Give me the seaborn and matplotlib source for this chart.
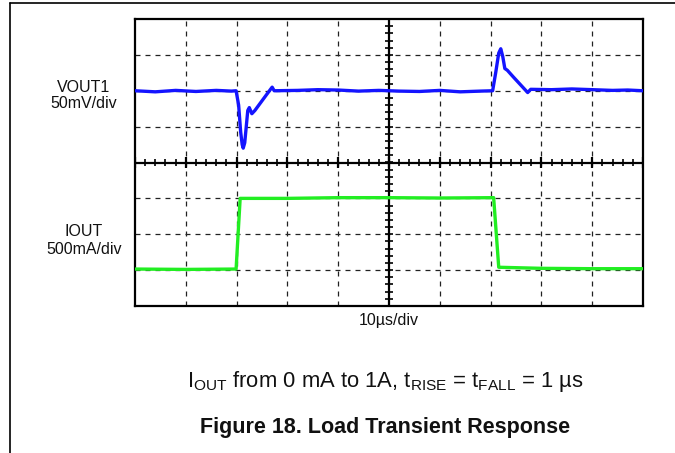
import numpy as np
import pandas as pd
import matplotlib
matplotlib.use("Agg")
import matplotlib.pyplot as plt
import seaborn as sns
from matplotlib.lines import Line2D

# ---- data (time in µs, amplitude in screen divisions) ----
vout_t = [-50, -46, -42, -38, -34, -31, -30.1, -29.6, -29.2, -28.9, -28.7, -28.4,
          -28.1, -27.8, -27.5, -27.0, -26.4, -25.0, -23.8, -23.0, -22.6, -18, -14,
          -10, -6, -2, 2, 6, 10, 14, 18, 20.4, 21.0, 21.6, 22.0, 22.4, 22.8, 23.3,
          24.5, 26.0, 27.3, 27.9, 32, 36, 40, 44, 47, 50]
vout_div = [2.00, 1.97, 2.01, 1.98, 2.01, 1.99, 2.00, 1.60, 0.85, 0.50, 0.40, 0.55,
            1.00, 1.45, 1.53, 1.36, 1.45, 1.72, 1.95, 2.10, 2.00, 2.01, 2.03, 2.02,
            1.99, 2.01, 1.99, 1.98, 2.01, 1.97, 1.99, 2.00, 2.50, 3.05, 3.17, 2.95,
            2.62, 2.57, 2.38, 2.15, 1.95, 2.04, 2.03, 2.05, 2.03, 2.01, 2.02, 2.00]

iout_t = [-50, -40, -30.1, -29.3, -20, -10, 0, 10, 20.6, 21.6, 30, 40, 50]
iout_div = [-2.97, -2.98, -2.97, -1.00, -1.00, -0.98, -0.98, -0.99, -0.98,
            -2.92, -2.95, -2.96, -2.96]

div_labels = [("VOUT1", "50mV/div"), ("IOUT", "500mA/div")]
time_label = "10µs/div"
caption = r"I$_{\mathregular{OUT}}$ from 0 mA to 1A, t$_{\mathregular{RISE}}$ = t$_{\mathregular{FALL}}$ = 1 µs"
title = "Figure 18. Load Transient Response"

sns.set_theme(style="white")
plt.rcParams['font.family'] = ['Liberation Sans', 'DejaVu Sans']
plt.rcParams['mathtext.fontset'] = 'custom'
plt.rcParams['mathtext.rm'] = 'Liberation Sans'

W, H = 675, 453
fig = plt.figure(figsize=(W / 100, H / 100), dpi=100)
ax = fig.add_axes([135 / W, 1 - 306 / H, 508 / W, 287 / H])
ax.set_xlim(-50, 50)
ax.set_ylim(-4, 4)

# grid
dash = (0, (4, 4))
for x in range(-40, 50, 10):
    if x != 0:
        ax.axvline(x, color="#222222", lw=0.9, ls=dash, zorder=1)
for y in [-3, -2, -1, 1, 2, 3]:
    ax.axhline(y, color="#222222", lw=0.9, ls=dash, zorder=1)

# centre crosshair with ticks
ax.axhline(0, color="black", lw=1.6, zorder=2)
ax.axvline(0, color="black", lw=1.6, zorder=2)
xt = np.arange(-50, 50.01, 2)
ax.vlines(xt, -0.1, 0.1, color="black", lw=1.2, zorder=2)
ax.vlines(np.arange(-50, 50.01, 10), -0.15, 0.15, color="black", lw=1.6, zorder=2)
yt = np.arange(-4, 4.01, 0.2)
ax.hlines(yt, -0.8, 0.8, color="black", lw=1.2, zorder=2)

df_v = pd.DataFrame({"t": vout_t, "v": vout_div})
df_i = pd.DataFrame({"t": iout_t, "v": iout_div})
sns.lineplot(data=df_v, x="t", y="v", ax=ax, color="#1414ff", lw=2.4,
             estimator=None, zorder=3)
sns.lineplot(data=df_i, x="t", y="v", ax=ax, color="#22ee22", lw=2.4,
             estimator=None, zorder=3)

ax.set_xticks([])
ax.set_yticks([])
ax.set_xlabel("")
ax.set_ylabel("")
for s in ax.spines.values():
    s.set_visible(True)
    s.set_color("black")
    s.set_linewidth(1.6)

# channel labels
fs = 11.5
fig.text(84 / W, 1 - 87 / H, div_labels[0][0], ha="center", va="center", fontsize=fs, color="#111111")
fig.text(84 / W, 1 - 104 / H, div_labels[0][1], ha="center", va="center", fontsize=fs, color="#111111")
fig.text(84 / W, 1 - 232 / H, div_labels[1][0], ha="center", va="center", fontsize=fs, color="#111111")
fig.text(84 / W, 1 - 249 / H, div_labels[1][1], ha="center", va="center", fontsize=fs, color="#111111")
fig.text(389 / W, 1 - 320 / H, time_label, ha="center", va="center", fontsize=fs, color="#111111")

fig.text(385 / W, 1 - 381 / H, caption, ha="center", va="center", fontsize=15.8, color="#111111")
fig.text(385 / W, 1 - 428 / H, title, ha="center", va="center", fontsize=15.5,
         fontweight="bold", color="#111111")

# page frame lines
fig.add_artist(Line2D([10 / W, 10 / W], [0, 1 - 3 / H], transform=fig.transFigure, color="black", lw=1.2))
fig.add_artist(Line2D([10 / W, 1], [1 - 3 / H, 1 - 3 / H], transform=fig.transFigure, color="black", lw=1.2))

fig.savefig("out.png", dpi=100)
